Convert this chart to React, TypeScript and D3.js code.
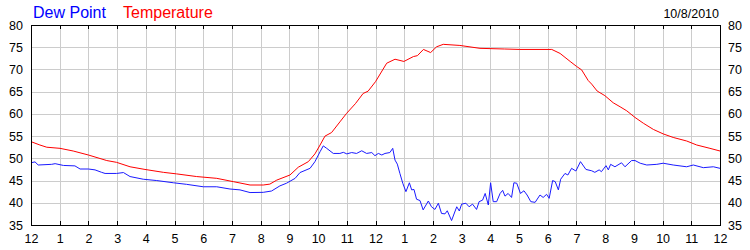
import React from "react";
import * as d3 from "d3";

const W = 750;
const H = 250;

const hourLabels = ["12","1","2","3","4","5","6","7","8","9","10","11","12","1","2","3","4","5","6","7","8","9","10","11","12"];
const yTicks = [35, 40, 45, 50, 55, 60, 65, 70, 75, 80];
const dateLabel = "10/8/2010";
const seriesNames = ["Dew Point", "Temperature"];

const tempHours = [0,0.31,0.55,1.01,1.47,2.0,2.64,2.98,3.45,3.97,4.61,5.07,5.77,6.47,7.05,7.63,8.09,8.32,8.56,9.02,9.31,9.66,9.89,10.07,10.24,10.47,10.76,10.99,11.3,11.57,11.74,12.0,12.39,12.68,12.99,13.32,13.46,13.67,13.92,14.13,14.36,14.94,15.64,16.5,17.03,18.14,18.43,18.78,19.0,19.18,19.41,19.53,19.72,19.99,20.28,20.52,20.75,21.04,21.33,21.68,22.02,22.37,22.84,23.19,23.65,24];
const tempValues = [53.75,53.0,52.5,52.25,51.65,50.75,49.5,49.1,48.1,47.5,46.85,46.5,45.9,45.5,44.75,44.0,44.0,44.2,45.1,46.25,48.0,49.25,51.0,53.0,55.0,55.8,58.2,60.1,62.3,64.6,65.1,67.25,71.4,72.3,71.8,72.9,73.1,74.5,73.8,75.1,75.65,75.4,74.75,74.6,74.5,74.5,73.6,71.8,70.7,69.9,67.5,66.7,65.15,64.1,62.5,61.6,60.7,59.2,57.9,56.5,55.5,54.7,53.9,53.0,52.25,51.65];

const dewHours = [0,0.14,0.25,0.72,0.84,1.13,1.53,1.71,2.0,2.23,2.46,2.58,2.98,3.22,3.45,3.91,4.38,4.96,5.42,6.0,6.47,6.93,7.28,7.63,8.09,8.38,8.67,8.9,9.2,9.37,9.72,9.89,10.07,10.18,10.3,10.53,10.76,10.88,11.0,11.17,11.34,11.52,11.69,11.87,11.98,12.1,12.22,12.33,12.5,12.6,12.68,12.76,12.85,12.95,13.06,13.18,13.26,13.34,13.43,13.55,13.66,13.84,13.95,14.07,14.19,14.3,14.42,14.5,14.65,14.83,14.92,15.0,15.15,15.26,15.38,15.52,15.61,15.73,15.82,15.93,16.01,16.1,16.22,16.34,16.43,16.51,16.62,16.74,16.82,16.92,17.05,17.17,17.28,17.41,17.56,17.73,17.84,17.96,18.05,18.17,18.26,18.37,18.45,18.6,18.7,18.83,18.98,19.14,19.33,19.53,19.64,19.79,19.87,20.03,20.11,20.19,20.34,20.57,20.69,20.92,21.04,21.22,21.45,21.8,22.02,22.37,22.84,23.07,23.42,23.77,24];
const dewValues = [49.0,49.2,48.5,48.65,48.8,48.4,48.3,47.6,47.6,47.4,46.85,46.6,46.6,46.8,45.9,45.3,45.0,44.5,44.15,43.6,43.6,43.1,42.9,42.3,42.35,42.65,43.8,44.4,45.5,46.8,47.75,49.25,51.5,52.8,52.25,51.1,51.1,51.35,51.0,51.3,51.1,51.7,51.1,51.3,50.6,51.1,50.75,51.1,51.3,52.25,49.6,48.7,46.6,44.4,42.5,44.5,42.9,43.0,40.8,40.5,38.4,40.4,39.1,38.5,39.9,37.6,37.5,38.2,36.0,39.1,38.15,39.7,39.9,39.1,39.7,38.5,40.25,40.6,42.1,39.5,44.5,40.25,40.25,42.1,42.8,41.5,42.1,41.2,44.5,44.4,42.1,42.7,41.75,40.25,40.1,41.75,41.2,41.9,41.0,45.0,44.75,42.9,45.3,46.6,46.25,47.75,47.15,49.25,47.5,47.2,46.85,47.4,47.0,48.35,47.4,48.65,48.1,49.0,48.1,49.5,49.5,48.9,48.5,48.65,48.9,48.5,48.1,48.5,47.9,48.1,47.75];

const FONT = "Arial, 'Liberation Sans', sans-serif";

export default function App() {
  const left = 31, right = 720, top = 25, bottom = 225;
  const x = d3.scaleLinear().domain([0, 24]).range([left, right]);
  const y = d3.scaleLinear().domain([35, 80]).range([bottom, top]);

  const tempData = tempHours.map((h, i) => [h, tempValues[i]] as [number, number]);
  const dewData = dewHours.map((h, i) => [h, dewValues[i]] as [number, number]);

  const line = d3.line<[number, number]>().x(d => x(d[0])).y(d => y(d[1]));

  const hours = d3.range(0, 25);
  const px = (v: number) => Math.round(v) + 0.5;

  return (
    <svg width={W} height={H} style={{ display: "block", position: "absolute", left: 0, top: 0, background: "#fff" }} fontFamily={FONT}>
      <rect x={0} y={0} width={W} height={H} fill="#fff" />
      <g stroke="#cccccc" strokeWidth={1} shapeRendering="crispEdges">
        {hours.slice(1, -1).map(h => (
          <line key={"v" + h} x1={px(x(h))} x2={px(x(h))} y1={top} y2={bottom} />
        ))}
        {yTicks.slice(1, -1).map(t => (
          <line key={"h" + t} x1={left} x2={right} y1={px(y(t))} y2={px(y(t))} />
        ))}
      </g>
      <g stroke="#000" strokeWidth={1} shapeRendering="crispEdges">
        {hours.slice(1, -1).map(h => (
          <g key={"t" + h}>
            <line x1={px(x(h))} x2={px(x(h))} y1={bottom - 4} y2={bottom} />
            <line x1={px(x(h))} x2={px(x(h))} y1={top} y2={top + 4} />
          </g>
        ))}
      </g>
      <path d={line(tempData) || ""} fill="none" stroke="#ff0000" strokeWidth={1} />
      <path d={line(dewData) || ""} fill="none" stroke="#1a1aff" strokeWidth={1} />
      <rect x={px(left)} y={px(top)} width={Math.round(right) - Math.round(left)} height={Math.round(bottom) - Math.round(top)} fill="none" stroke="#000" strokeWidth={1} shapeRendering="crispEdges" />
      <g fontSize={12.5} fill="#000">
        {yTicks.map(t => (
          <g key={"yl" + t}>
            <text x={23} y={y(t) + 4.5} textAnchor="end">{t}</text>
            <text x={728} y={y(t) + 4.5} textAnchor="start">{t}</text>
          </g>
        ))}
      </g>
      <g fontSize={12.5} fill="#000">
        {hours.map(h => (
          <text key={"xl" + h} x={x(h) + 0.5} y={242.5} textAnchor="middle">{hourLabels[h]}</text>
        ))}
      </g>
      <text x={33} y={18.3} fontSize={16} fill="#0000ff">{seriesNames[0]}</text>
      <text x={123} y={18.3} fontSize={16} fill="#ff0000">{seriesNames[1]}</text>
      <text x={719} y={17.5} fontSize={12.5} fill="#000" textAnchor="end">{dateLabel}</text>
    </svg>
  );
}
